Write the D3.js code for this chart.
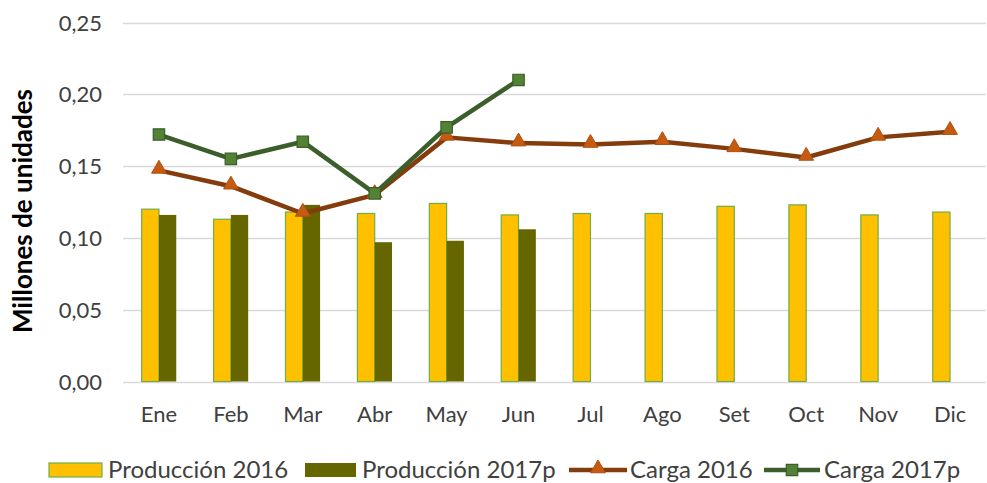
<!DOCTYPE html>
<html>
<head>
<meta charset="utf-8">
<script src="https://cdn.jsdelivr.net/npm/d3@7"></script>
<style>
  body { margin: 0; background: #fff; }
  svg { display: block; font-family: Lato, "Open Sans", sans-serif; }
</style>
</head>
<body>
<svg id="chart" width="987" height="483"></svg>
<script>
// data (millones de unidades)
var months = ["Ene", "Feb", "Mar", "Abr", "May", "Jun", "Jul", "Ago", "Set", "Oct", "Nov", "Dic"];
var prod2016 = [0.120, 0.113, 0.118, 0.117, 0.124, 0.116, 0.117, 0.117, 0.122, 0.123, 0.116, 0.118];
var prod2017 = [0.116, 0.116, 0.123, 0.097, 0.098, 0.106];
var carga2016 = [0.147, 0.136, 0.117, 0.130, 0.170, 0.166, 0.165, 0.167, 0.162, 0.156, 0.170, 0.174];
var carga2017 = [0.172, 0.155, 0.167, 0.131, 0.177, 0.210];
var yTicks = [0, 0.05, 0.10, 0.15, 0.20, 0.25];
var legendNames = ["Producción 2016", "Producción 2017p", "Carga 2016", "Carga 2017p"];

var svg = d3.select("#chart");
var mLeft = 123, mRight = 986, mTop = 22.5, mBottom = 381.5;

var x = d3.scaleBand().domain(months).range([mLeft, mRight]).paddingInner(0).paddingOuter(0);
var xs = d3.scaleBand().domain(["a", "b"]).range([0, 34.6]);
var y = d3.scaleLinear().domain([0, 0.25]).range([mBottom, mTop]);
var fmt = function(d) { return d3.format(".2f")(d).replace(".", ","); };

// gridlines
svg.append("g")
  .selectAll("line")
  .data(yTicks)
  .enter()
  .append("line")
    .attr("x1", mLeft).attr("x2", mRight)
    .attr("y1", function(d) { return Math.round(y(d)) + 0.5; })
    .attr("y2", function(d) { return Math.round(y(d)) + 0.5; })
    .attr("stroke", "#d9d9d9").attr("stroke-width", 1.3);

// y axis labels
var yAxis = d3.axisLeft(y).tickValues(yTicks).tickFormat(fmt).tickSize(0).tickPadding(0);
var gy = svg.append("g").attr("transform", "translate(102,0.5)").call(yAxis);
gy.select(".domain").remove();
gy.selectAll("text").attr("font-size", 22).attr("fill", "#404040").attr("font-family", "Lato");

// x axis labels
var xAxis = d3.axisBottom(x).tickSize(0).tickPadding(0);
var gx = svg.append("g").attr("transform", "translate(0,406.5)").call(xAxis);
gx.select(".domain").remove();
gx.selectAll("text").attr("font-size", 22).attr("fill", "#404040").attr("font-family", "Lato");

// y title
svg.append("text")
  .attr("transform", "translate(32,211) rotate(-90)")
  .attr("text-anchor", "middle")
  .attr("font-size", 26)
  .attr("font-weight", "bold")
  .attr("fill", "#000")
  .text("Millones de unidades");

// bars
var groupOff = (x.bandwidth() - 34.6) / 2;
svg.append("g")
  .selectAll("rect")
  .data(prod2016)
  .enter()
  .append("rect")
    .attr("x", function(d, i) { return x(months[i]) + groupOff + xs("a"); })
    .attr("y", function(d) { return y(d); })
    .attr("width", xs.bandwidth())
    .attr("height", function(d) { return y(0) - y(d); })
    .attr("fill", "#ffc000")
    .attr("stroke", "#70ad47").attr("stroke-width", 1.2);

svg.append("g")
  .selectAll("rect")
  .data(prod2017)
  .enter()
  .append("rect")
    .attr("x", function(d, i) { return x(months[i]) + groupOff + xs("b"); })
    .attr("y", function(d) { return y(d); })
    .attr("width", xs.bandwidth())
    .attr("height", function(d) { return y(0) - y(d); })
    .attr("fill", "#666600");

// lines
var cx = function(d, i) { return x(months[i]) + x.bandwidth() / 2; };
var line = d3.line().x(cx).y(function(d) { return y(d); });

var triangle = d3.symbol().type(d3.symbolTriangle).size(95);
var square = d3.symbol().type(d3.symbolSquare).size(130);

svg.append("path").datum(carga2016)
  .attr("d", line).attr("fill", "none")
  .attr("stroke", "#843c0c").attr("stroke-width", 4.5).attr("stroke-linejoin", "round");

svg.append("g")
  .selectAll("path")
  .data(carga2016)
  .enter()
  .append("path")
    .attr("d", triangle)
    .attr("transform", function(d, i) { return "translate(" + cx(d, i) + "," + (y(d) - 1.5) + ")"; })
    .attr("fill", "#c55a11").attr("stroke", "#b4500e").attr("stroke-width", 1);

svg.append("path").datum(carga2017)
  .attr("d", line).attr("fill", "none")
  .attr("stroke", "#3b5e2b").attr("stroke-width", 4.5).attr("stroke-linejoin", "round");

svg.append("g")
  .selectAll("path")
  .data(carga2017)
  .enter()
  .append("path")
    .attr("d", square)
    .attr("transform", function(d, i) { return "translate(" + cx(d, i) + "," + y(d) + ")"; })
    .attr("fill", "#548235").attr("stroke", "#3b5e2b").attr("stroke-width", 1.2);

// legend
var lg = svg.append("g").attr("font-size", 24).attr("fill", "#404040");
var lgX = [49, 305, 569, 764];
var lgTextX = [108, 362, 630, 824];
var lgY = 470;

lg.append("rect").attr("x", lgX[0]).attr("y", lgY - 7).attr("width", 53).attr("height", 14)
  .attr("fill", "#ffc000").attr("stroke", "#70ad47").attr("stroke-width", 1.2);
lg.append("rect").attr("x", lgX[1]).attr("y", lgY - 7).attr("width", 51).attr("height", 14)
  .attr("fill", "#666600");
lg.append("line").attr("x1", lgX[2]).attr("x2", lgX[2] + 58).attr("y1", lgY).attr("y2", lgY)
  .attr("stroke", "#843c0c").attr("stroke-width", 4.5);
lg.append("path").attr("d", triangle).attr("transform", "translate(" + (lgX[2] + 29) + "," + (lgY - 1.5) + ")")
  .attr("fill", "#c55a11").attr("stroke", "#b4500e");
lg.append("line").attr("x1", lgX[3]).attr("x2", lgX[3] + 56).attr("y1", lgY).attr("y2", lgY)
  .attr("stroke", "#3b5e2b").attr("stroke-width", 4.5);
lg.append("path").attr("d", square).attr("transform", "translate(" + (lgX[3] + 28) + "," + lgY + ")")
  .attr("fill", "#548235").attr("stroke", "#3b5e2b").attr("stroke-width", 1.2);

lg.selectAll("text")
  .data(legendNames)
  .enter()
  .append("text")
    .attr("x", function(d, i) { return lgTextX[i]; })
    .attr("y", lgY)
    .attr("dy", "0.35em")
    .text(function(d) { return d; });
</script>
</body>
</html>
